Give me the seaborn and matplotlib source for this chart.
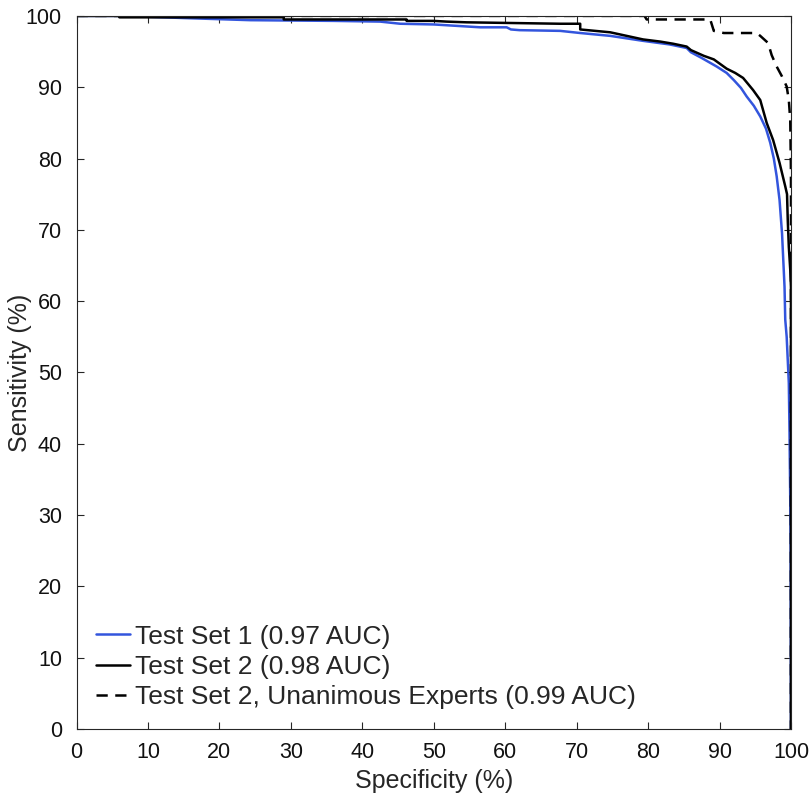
import matplotlib
matplotlib.use("Agg")
import matplotlib.pyplot as plt
import seaborn as sns

# ROC curves: specificity (%) vs sensitivity (%)
spec_set1 = [0, 6.5, 15, 24.3, 36, 42.5, 45.3, 50, 56.5, 60.2, 60.8, 62, 67.7, 70.5,
             74.7, 79.3, 83, 85.4, 86, 87.5, 89.6, 91, 92, 93, 93.8, 94.8, 95.7,
             96.5, 97.1, 97.6, 98, 98.4, 98.75, 99.1, 99.2, 99.4, 99.7, 99.8, 99.9,
             99.95, 100]
sens_set1 = [100, 100, 99.7, 99.4, 99.3, 99.2, 98.9, 98.8, 98.4, 98.4, 98.1, 98.0, 97.9, 97.6,
             97.2, 96.5, 96.0, 95.5, 94.9, 94.1, 92.9, 92.0, 91.0, 89.9, 88.7, 87.4, 85.9,
             84.2, 82.2, 80.0, 77.5, 74.2, 69.5, 62.0, 57.4, 55.0, 48.5, 41.5, 32.1,
             25.0, 0]

spec_set2 = [0, 6, 6, 29, 29, 46.2, 46.2, 50, 51.8, 54.6, 67.7, 70.5, 70.5, 74.7, 77,
             79.3, 81.7, 83.5, 85.4, 86, 87.8, 89.2, 91.0, 92.2, 93.3, 94.7, 95.7,
             96.6, 97.5, 98.4, 99.2, 99.45, 99.55, 99.7, 99.9, 100, 100]
sens_set2 = [100, 100, 99.8, 99.8, 99.5, 99.5, 99.3, 99.3, 99.2, 99.1, 98.9, 98.9, 98.1, 97.7, 97.2,
             96.7, 96.4, 96.1, 95.7, 95.2, 94.4, 93.9, 92.6, 92.0, 91.3, 89.6, 88.2,
             85.0, 82.6, 79.4, 76.1, 75.0, 71.4, 67.6, 64.4, 62.0, 0]

spec_unan = [0, 79.5, 79.8, 88.7, 89.2, 90.6, 95.2, 95.7, 96.8, 97.3, 98.0, 98.75,
             99.4, 99.7, 99.9, 100, 100]
sens_unan = [100, 100, 99.5, 99.5, 97.9, 97.6, 97.6, 97.2, 96.2, 94.5, 92.9, 91.5,
             90.1, 88.2, 85.4, 78.0, 0]

labels = ["Test Set 1 (0.97 AUC)", "Test Set 2 (0.98 AUC)",
          "Test Set 2, Unanimous Experts (0.99 AUC)"]

sns.set_style("ticks")
plt.rcParams["font.family"] = ["Liberation Sans", "DejaVu Sans"]
plt.rcParams["axes.edgecolor"] = "#262626"
plt.rcParams["axes.linewidth"] = 0.8
plt.rcParams["xtick.color"] = "#262626"
plt.rcParams["ytick.color"] = "#262626"

fig = plt.figure(figsize=(8.1, 7.95), dpi=100)
ax = fig.add_axes([0.0945, 0.083, 0.882, 0.897])

sns.lineplot(x=spec_set1, y=sens_set1, sort=False, estimator=None, ax=ax,
             color="#3355dd", lw=1.8, label=labels[0])
sns.lineplot(x=spec_set2, y=sens_set2, sort=False, estimator=None, ax=ax,
             color="black", lw=1.8, label=labels[1])
sns.lineplot(x=spec_unan, y=sens_unan, sort=False, estimator=None, ax=ax,
             color="black", lw=1.8, linestyle=(0, (4.5, 3)), label=labels[2])

ax.set_xlim(0, 100)
ax.set_ylim(0, 100)
ax.set_xticks(range(0, 101, 10))
ax.set_yticks(range(0, 101, 10))
ax.tick_params(direction="in", top=True, right=True, length=5, width=0.8,
               labelsize=15.5, labelcolor="#111111")
ax.tick_params(axis="x", pad=9.5)
ax.tick_params(axis="y", pad=10.5)
ax.set_xlabel("Specificity (%)", fontsize=18, labelpad=4)
ax.set_ylabel("Sensitivity (%)", fontsize=18)
ax.yaxis.set_label_coords(-0.062, 0.5)

ax.legend(loc="lower left", frameon=False, fontsize=19, handlelength=1.29,
          handletextpad=0.19, labelspacing=0.24, borderaxespad=0.35, borderpad=0.4)

plt.savefig("out.png", dpi=100)
